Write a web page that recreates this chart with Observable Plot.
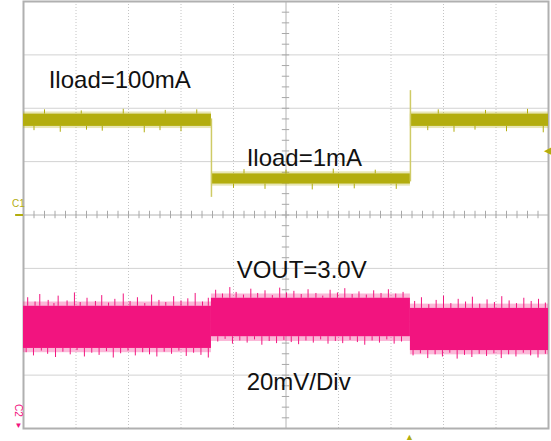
<!DOCTYPE html>
<html>
<head>
<meta charset="utf-8">
<script src="https://cdn.jsdelivr.net/npm/d3@7"></script>
<script src="https://cdn.jsdelivr.net/npm/@observablehq/plot@0.6"></script>
<style>
  html, body { margin: 0; padding: 0; background: #fff; }
  #chart svg { display: block; }
</style>
</head>
<body>
<div id="chart"></div>
<script>
// Time in divisions (0-10), amplitude in divisions (-4..4)
const xGrid = [1, 2, 3, 4, 6, 7, 8, 9];
const yGrid = [-3, -2, -1, 1, 2, 3];

// Channel 1 (load current) – segments
const ch1Start = [0, 3.58, 7.37];
const ch1End = [3.58, 7.37, 10];
const ch1Top = [1.89, 0.77, 1.89];
const ch1Bottom = [1.66, 0.58, 1.66];
const ch1OuterTop = [1.93, 0.81, 1.93];
const ch1OuterBottom = [1.62, 0.54, 1.62];
// edges: [time, from, to]
const ch1Edges = [[3.58, 1.80, 0.33], [7.37, 0.62, 2.33]];
const ch1SpikesTop = [[0.4, 1.97], [1.1, 1.95], [1.9, 1.98], [2.7, 1.96], [3.3, 1.97], [4.2, 0.85], [5.0, 0.84], [5.9, 0.86], [6.7, 0.84], [7.9, 1.97], [8.8, 1.96], [9.6, 1.98]];
const ch1SpikesBottom = [[0.2, 1.58], [0.7, 1.55], [1.2, 1.59], [1.5, 1.57], [2.3, 1.54], [2.6, 1.58], [3.0, 1.56], [4.0, 0.50], [4.6, 0.48], [5.5, 0.47], [6.0, 0.50], [6.3, 0.49], [7.1, 0.48], [7.7, 1.58], [8.2, 1.55], [8.6, 1.59], [9.2, 1.56], [9.9, 1.54]];

// Channel 2 (VOUT, 20mV/div) – segments
const ch2Start = [0, 3.58, 7.37];
const ch2End = [3.58, 7.37, 10];
const ch2Top = [-1.71, -1.56, -1.75];
const ch2Bottom = [-2.50, -2.28, -2.54];
const ch2OuterTop = [-1.63, -1.48, -1.67];
const ch2OuterBottom = [-2.58, -2.37, -2.62];
const ch2SpikesTop = [
  [0.08,-1.55],[0.22,-1.63],[0.31,-1.49],[0.47,-1.60],[0.58,-1.66],[0.66,-1.52],[0.83,-1.61],[0.97,-1.46],[1.08,-1.64],[1.21,-1.56],[1.37,-1.62],[1.49,-1.51],[1.62,-1.65],[1.74,-1.58],[1.90,-1.48],[2.03,-1.62],[2.17,-1.55],[2.31,-1.66],[2.44,-1.50],[2.58,-1.60],[2.71,-1.64],[2.86,-1.53],[3.00,-1.61],[3.13,-1.57],[3.27,-1.47],[3.41,-1.63],[3.52,-1.56],
  [3.66,-1.41],[3.79,-1.48],[3.93,-1.36],[4.05,-1.45],[4.19,-1.50],[4.33,-1.39],[4.46,-1.47],[4.60,-1.42],[4.74,-1.51],[4.88,-1.37],[5.01,-1.46],[5.15,-1.43],[5.29,-1.49],[5.42,-1.40],[5.57,-1.47],[5.70,-1.52],[5.84,-1.41],[5.98,-1.46],[6.12,-1.38],[6.26,-1.49],[6.39,-1.44],[6.53,-1.50],[6.67,-1.42],[6.81,-1.47],[6.95,-1.40],[7.09,-1.48],[7.23,-1.45],
  [7.45,-1.62],[7.58,-1.55],[7.72,-1.68],[7.86,-1.60],[8.00,-1.52],[8.14,-1.66],[8.28,-1.58],[8.42,-1.63],[8.55,-1.54],[8.69,-1.67],[8.83,-1.59],[8.97,-1.64],[9.11,-1.53],[9.25,-1.61],[9.39,-1.66],[9.53,-1.56],[9.67,-1.62],[9.81,-1.58],[9.94,-1.65]
];
const ch2SpikesBottom = [
  [0.05,-2.58],[0.19,-2.64],[0.34,-2.55],[0.46,-2.61],[0.61,-2.67],[0.75,-2.57],[0.89,-2.62],[1.02,-2.54],[1.16,-2.66],[1.30,-2.59],[1.44,-2.63],[1.58,-2.56],[1.71,-2.68],[1.85,-2.60],[1.99,-2.55],[2.13,-2.64],[2.27,-2.58],[2.40,-2.62],[2.54,-2.66],[2.68,-2.57],[2.82,-2.61],[2.96,-2.55],[3.10,-2.65],[3.24,-2.59],[3.38,-2.63],[3.52,-2.68],
  [3.70,-2.38],[3.84,-2.33],[3.98,-2.42],[4.12,-2.36],[4.26,-2.40],[4.40,-2.34],[4.54,-2.44],[4.68,-2.37],[4.82,-2.41],[4.96,-2.35],[5.10,-2.39],[5.24,-2.43],[5.38,-2.36],[5.52,-2.40],[5.66,-2.34],[5.80,-2.42],[5.94,-2.37],[6.08,-2.41],[6.22,-2.35],[6.36,-2.39],[6.50,-2.44],[6.64,-2.36],[6.78,-2.40],[6.92,-2.34],[7.06,-2.42],[7.20,-2.38],
  [7.42,-2.64],[7.56,-2.60],[7.70,-2.69],[7.84,-2.62],[7.98,-2.66],[8.12,-2.59],[8.26,-2.70],[8.40,-2.63],[8.54,-2.67],[8.68,-2.61],[8.82,-2.65],[8.96,-2.60],[9.10,-2.69],[9.24,-2.62],[9.38,-2.66],[9.52,-2.59],[9.66,-2.64],[9.80,-2.68],[9.94,-2.61]
];

const labels = ["Iload=100mA", "Iload=1mA", "VOUT=3.0V", "20mV/Div"];

const Y = "#b3ad0e";
const YL = "#cfcb66";
const P = "#f2147f";

const seg = (s, e, t, b) => s.map((v, i) => ({x1: v, x2: e[i], y1: b[i], y2: t[i]}));
const ch1Core = seg(ch1Start, ch1End, ch1Top, ch1Bottom);
const ch1Outer = seg(ch1Start, ch1End, ch1OuterTop, ch1OuterBottom);
const ch2Core = seg(ch2Start, ch2End, ch2Top, ch2Bottom);
const ch2Outer = seg(ch2Start, ch2End, ch2OuterTop, ch2OuterBottom);
const segIndex = t => t < 3.58 ? 0 : t < 7.37 ? 1 : 2;

const minorX = d3.range(1, 50).map(i => i / 5);
const minorY = d3.range(-19, 20).map(i => i / 5);

const font = "'Liberation Sans', Arial, sans-serif";

const chart = Plot.plot({
  width: 551,
  height: 441,
  marginLeft: 23,
  marginRight: 3,
  marginTop: 1,
  marginBottom: 13,
  x: {domain: [0, 10], axis: null},
  y: {domain: [-4, 4], axis: null},
  style: {fontFamily: font, background: "#fff", overflow: "visible"},
  marks: [
    Plot.ruleY(yGrid, {stroke: "#d2d2d2", strokeWidth: 1}),
    Plot.ruleX(xGrid, {stroke: "#c4c4c4", strokeWidth: 1, strokeDasharray: "1,2"}),
    Plot.ruleX([5], {stroke: "#b4b4b4", strokeWidth: 1}),
    Plot.ruleY([0], {stroke: "#b4b4b4", strokeWidth: 1}),
    Plot.ruleX(minorX, {y1: -0.07, y2: 0.07, stroke: "#a8a8a8"}),
    Plot.ruleY(minorY, {x1: 4.93, x2: 5.07, stroke: "#a8a8a8"}),
    Plot.frame({stroke: "#b0b0b0", strokeWidth: 2}),

    // Channel 1
    Plot.rect(ch1Outer, {x1: "x1", x2: "x2", y1: "y1", y2: "y2", fill: Y, fillOpacity: 0.3}),
    Plot.rect(ch1Core, {x1: "x1", x2: "x2", y1: "y1", y2: "y2", fill: Y}),
    Plot.ruleX(ch1SpikesTop, {x: d => d[0], y1: d => ch1Top[segIndex(d[0])], y2: d => d[1], stroke: Y, strokeWidth: 1}),
    Plot.ruleX(ch1SpikesBottom, {x: d => d[0], y1: d => ch1Bottom[segIndex(d[0])], y2: d => d[1], stroke: Y, strokeWidth: 1}),
    Plot.ruleX(ch1Edges, {x: d => d[0], y1: d => d[1], y2: d => d[2], stroke: YL, strokeWidth: 1.5}),

    // Channel 2
    Plot.rect(ch2Outer, {x1: "x1", x2: "x2", y1: "y1", y2: "y2", fill: P, fillOpacity: 0.3}),
    Plot.rect(ch2Core, {x1: "x1", x2: "x2", y1: "y1", y2: "y2", fill: P}),
    Plot.ruleX(ch2SpikesTop, {x: d => d[0], y1: d => ch2Top[segIndex(d[0])], y2: d => d[1], stroke: P, strokeWidth: 1}),
    Plot.ruleX(ch2SpikesBottom, {x: d => d[0], y1: d => ch2Bottom[segIndex(d[0])], y2: d => d[1], stroke: P, strokeWidth: 1}),

    // Annotations
    Plot.text([labels[0]], {x: 0.48, y: 2.52, text: d => d, textAnchor: "start", fontSize: 24, fill: "#111"}),
    Plot.text([labels[1]], {x: 4.25, y: 1.06, text: d => d, textAnchor: "start", fontSize: 24, fill: "#111"}),
    Plot.text([labels[2]], {x: 4.06, y: -1.04, text: d => d, textAnchor: "start", fontSize: 24, fill: "#111"}),
    Plot.text([labels[3]], {x: 4.25, y: -3.14, text: d => d, textAnchor: "start", fontSize: 24, fill: "#111"}),

    // Channel markers
    Plot.ruleY([0], {x1: -0.15, x2: 0, stroke: Y, strokeWidth: 2}),
    Plot.text(["C1"], {x: 0, y: 0, text: d => d, dx: -5, dy: -11, fontSize: 10, fill: Y, textAnchor: "middle"}),
    Plot.text(["C2"], {x: 0, y: -4, text: d => d, dx: -5, dy: -18, fontSize: 10, fill: P, rotate: 90, textAnchor: "middle"}),
    Plot.text(["▼"], {x: 0, y: -4, text: d => d, dx: -5, dy: -3, fontSize: 8, fill: P, textAnchor: "middle"}),
    Plot.text(["◀"], {x: 10, y: 1.21, text: d => d, dx: 3, fontSize: 11, fill: Y, textAnchor: "end"}),
    Plot.text(["▲"], {x: 7.35, y: -4, text: d => d, dy: 9, fontSize: 9, fill: Y, textAnchor: "middle"})
  ]
});
document.getElementById("chart").appendChild(chart);
</script>
</body>
</html>
